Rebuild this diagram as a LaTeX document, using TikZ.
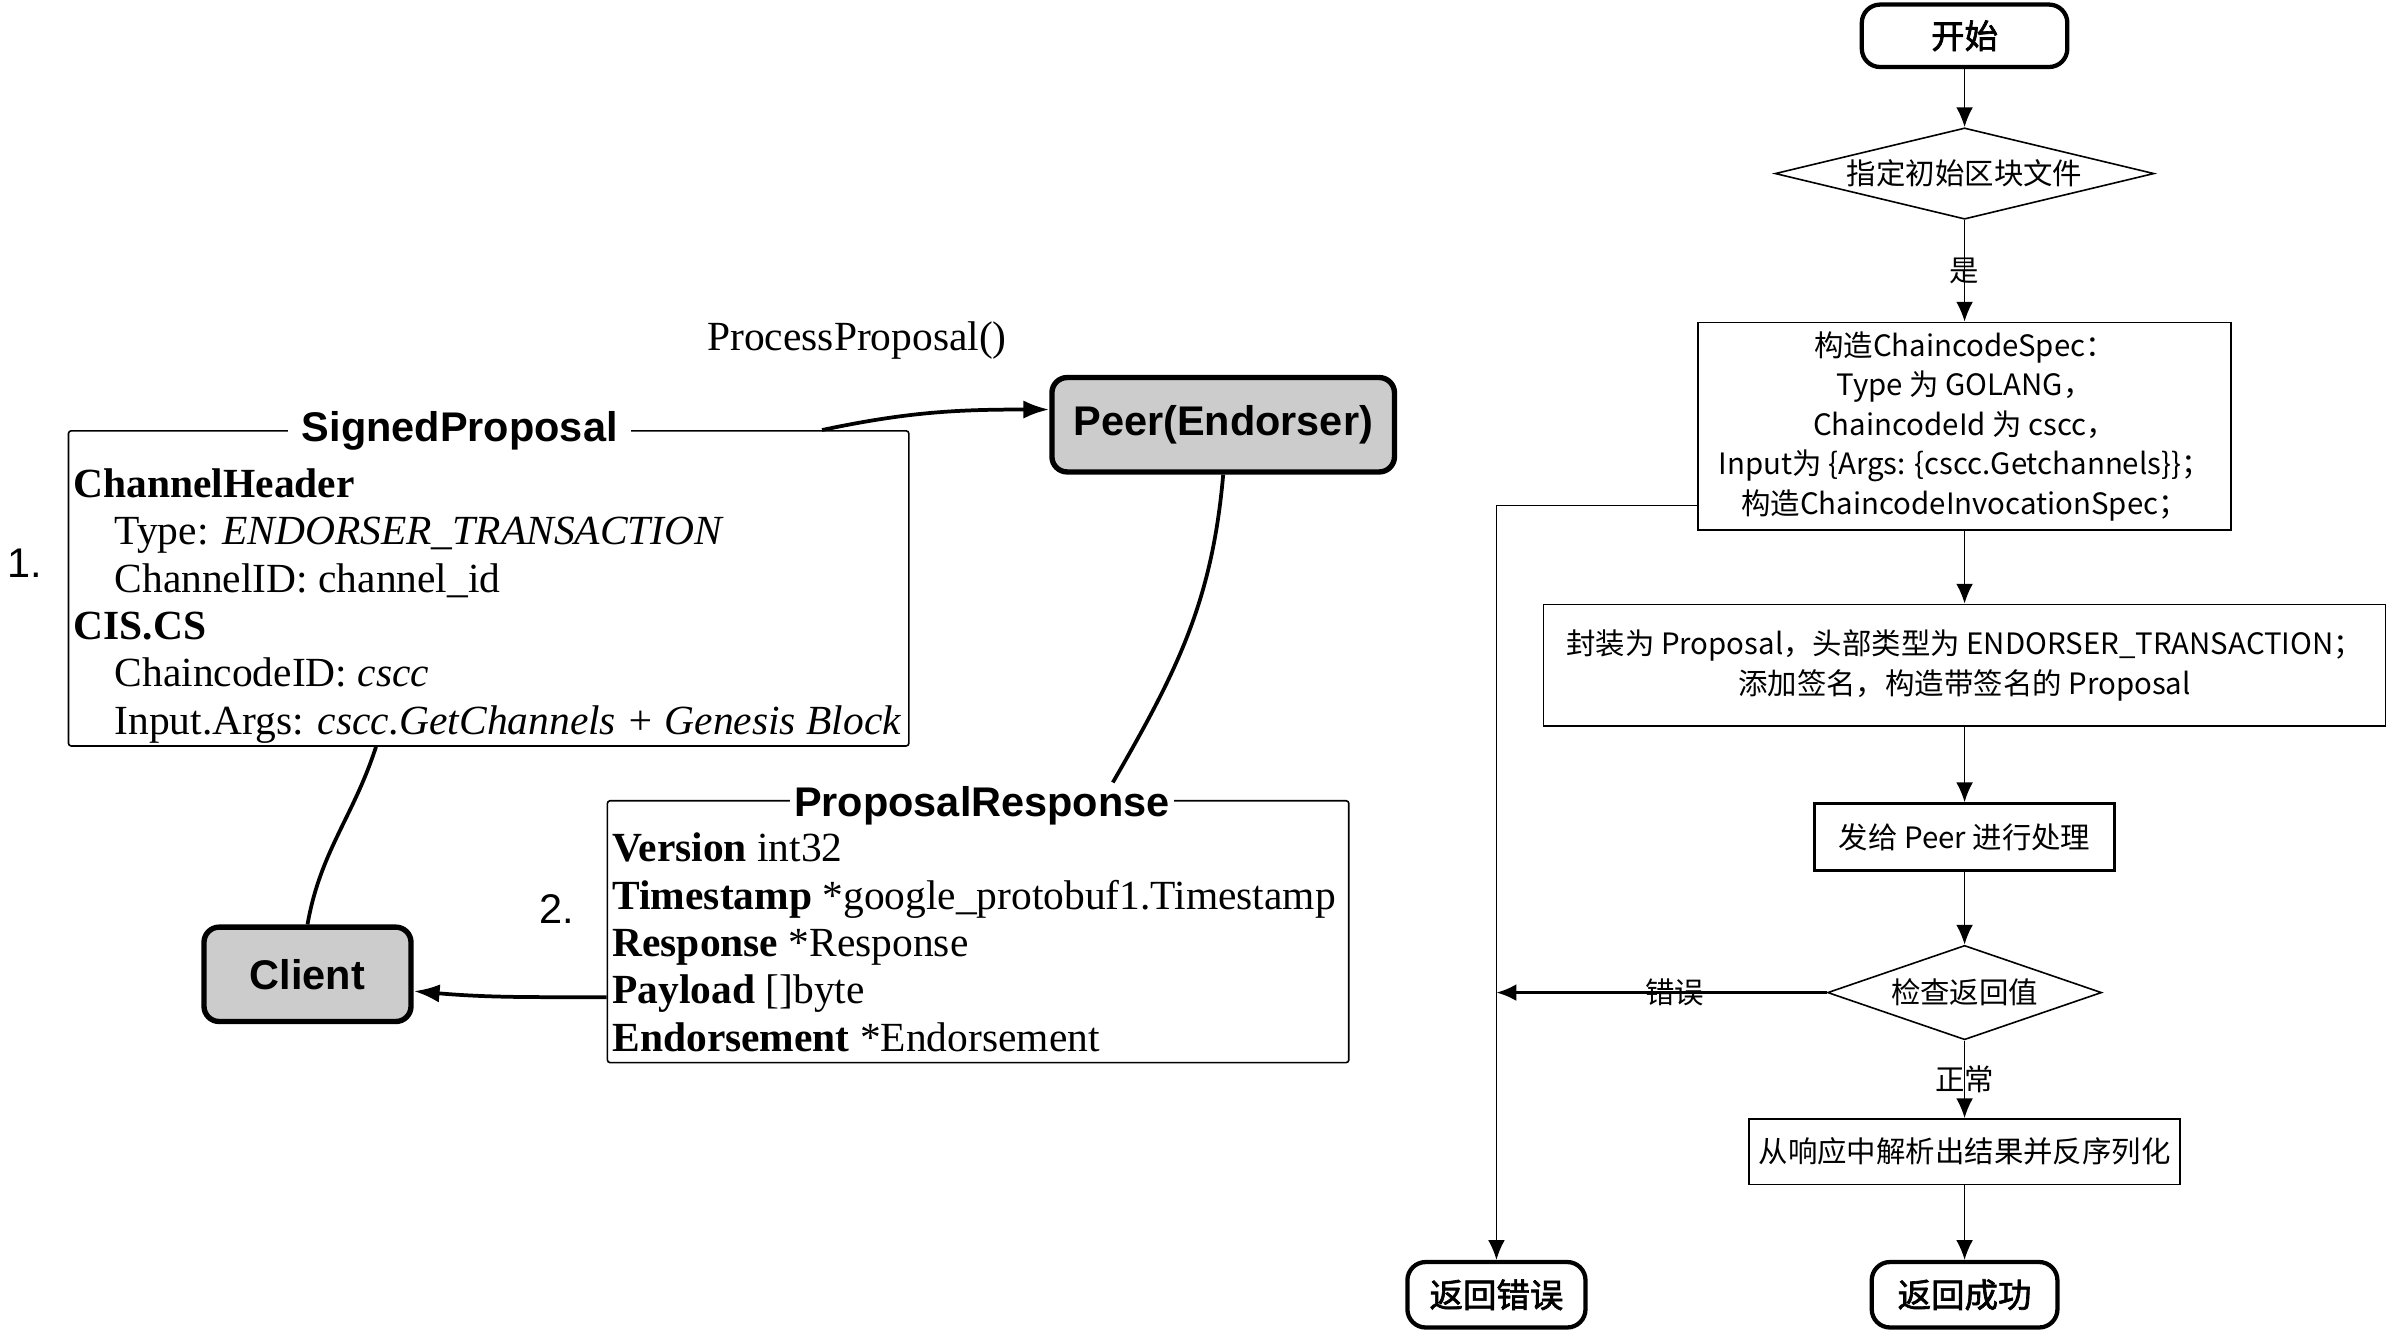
\documentclass[tikz,border=0pt]{standalone}
\usepackage{fontspec}
\setmainfont{Liberation Serif}
\setsansfont{Liberation Sans}
\newfontfamily\cjk[AutoFakeBold=2]{Noto Sans CJK SC}
\usepackage{tikz}
\usetikzlibrary{shapes,arrows,arrows.meta}
\usetikzlibrary{positioning}
\usetikzlibrary{shapes.geometric}
\tikzstyle{actor} = [draw, rounded corners=0.2cm, fill=black!20, line width=2pt,
font=\sffamily\bfseries\fontsize{15.5}{18}\selectfont]
\tikzstyle{line} = [draw, line width=1.4pt, -{Latex[length=0.34cm,width=0.24cm]}]
\tikzstyle{flow} = [draw, line width=0.6pt, -{Latex[length=0.26cm,width=0.22cm]}]

\begin{document}
\begin{tikzpicture}[
	msgbox/.style={draw, rectangle, rounded corners=1pt, line width=0.6pt},
	msgtitle/.style={fill=white, inner xsep=0.18cm, inner ysep=0.04cm,
		font=\sffamily\bfseries\fontsize{15.5}{18}\selectfont},
	msgtext/.style={anchor=west, align=left, inner sep=0pt,
		font=\fontsize{15.5}{17.7}\selectfont},
	stepnum/.style={font=\sffamily\fontsize{15.5}{18}\selectfont},
	terminal/.style={draw, rounded corners=0.24cm, line width=1.6pt,
		font=\cjk\bfseries\fontsize{12.5}{15}\selectfont},
	process/.style={draw, rectangle, line width=0.6pt, align=center,
		font=\cjk\fontsize{11}{14.8}\selectfont},
	decision/.style={draw, diamond, inner sep=0pt, line width=0.6pt,
		font=\cjk\fontsize{11}{14}\selectfont},
	flowlabel/.style={font=\cjk\fontsize{11}{13}\selectfont, inner sep=1pt}]
	\useasboundingbox (0,0) rectangle (31.36,-17.48);
	% Peer and client
	\node [actor, minimum width=4.5cm, minimum height=1.24cm] at (16.07,-5.58) (peer) {Peer(Endorser)};
	\node [actor, minimum width=2.72cm, minimum height=1.24cm] at (4.04,-12.8) (client) {Client};
	\node at (11.26,-4.48) (callLabel) {\fontsize{15.5}{18}\selectfont ProcessProposal()};
	% SignedProposal
	\node [msgbox, minimum width=11.04cm, minimum height=4.14cm] at (6.42,-7.73) (sp) {};
	\node [msgtitle] at (6.04,-5.66) (spTitle) {SignedProposal};
	\node [msgtext] at (0.96,-7.96) (spFields) {\textbf{ChannelHeader}\\
		\hspace*{0.54cm}Type: \textit{ENDORSER\_TRANSACTION}\\
		\hspace*{0.54cm}ChannelID: channel\_id\\
		\textbf{CIS.CS}\\
		\hspace*{0.54cm}ChaincodeID: \textit{cscc}\\
		\hspace*{0.54cm}Input.Args: \textit{cscc.GetChannels + Genesis Block}};
	\node [stepnum] at (0.32,-7.4) (stepOne) {1.};
	% ProposalResponse
	\node [msgbox, minimum width=9.74cm, minimum height=3.44cm] at (12.85,-12.24) (pr) {};
	\node [msgtitle, inner xsep=0.05cm] at (12.9,-10.58) (prTitle) {ProposalResponse};
	\node [msgtext] at (8.04,-12.38) (prFields) {\textbf{Version} int32\\
		\textbf{Timestamp} *google\_protobuf1.Timestamp\\
		\textbf{Response} *Response\\
		\textbf{Payload} []byte\\
		\textbf{Endorsement} *Endorsement};
	\node [stepnum] at (7.32,-11.94) (stepTwo) {2.};
	%% Flows
	\path [line] ([xshift=4.38cm]sp.north) to [out=12, in=180] (peer.175);
	\path [draw, line width=1.4pt] (peer.south) to [out=-95, in=60] ([xshift=1.72cm]prTitle.north);
	\path [draw, line width=1.4pt] ([xshift=-1.48cm]sp.south) to [out=-108, in=80] (client.north);
	\path [line] ([yshift=-0.86cm]pr.west) to [out=180, in=-5] (client.-9);
	% Flow chart
	\node [terminal, minimum width=2.7cm, minimum height=0.82cm] at (25.81,-0.47) (start) {开始};
	\node [decision, aspect=4, minimum width=4.98cm, minimum height=1.2cm] at (25.81,-2.28) (checkFile) {指定初始区块文件};
	\node [process, minimum width=7cm, minimum height=2.64cm] at (25.81,-5.6) (buildSpec) {构造ChaincodeSpec：\\Type 为 GOLANG，\\ChaincodeId 为 cscc，\\Input为 \{Args: \{cscc.Getchannels\}\}；\\构造ChaincodeInvocationSpec；};
	\node [process, minimum width=11.06cm, minimum height=1.6cm] at (25.81,-8.74) (wrap) {封装为 Proposal，头部类型为 ENDORSER\_TRANSACTION；\\添加签名，构造带签名的 Proposal};
	\node [process, line width=1.2pt, minimum width=3.94cm, minimum height=0.88cm] at (25.81,-11.0) (send) {发给 Peer 进行处理};
	\node [decision, aspect=3, minimum width=3.6cm, minimum height=1.24cm] at (25.81,-13.04) (checkRet) {检查返回值};
	\node [process, minimum width=5.66cm, minimum height=0.86cm] at (25.81,-15.13) (parse) {从响应中解析出结果并反序列化};
	\node [terminal, minimum width=2.44cm, minimum height=0.86cm] at (25.81,-17.01) (success) {返回成功};
	\node [terminal, minimum width=2.34cm, minimum height=0.86cm] at (19.66,-17.01) (failure) {返回错误};
	\path [flow] (start) -- (checkFile);
	\path [flow] (checkFile) -- node [flowlabel] (yesLabel) {是} (buildSpec);
	\path [flow] (buildSpec) -- (wrap);
	\path [flow] (wrap) -- (send);
	\path [flow] (send) -- (checkRet);
	\path [flow] (checkRet) -- node [flowlabel] (okLabel) {正常} (parse);
	\path [flow] (parse) -- (success);
	\path [flow] ([yshift=-1.04cm]buildSpec.west) -| (failure);
	\path [flow, line width=1pt] (checkRet.west) -- node [flowlabel, pos=0.46] (errLabel) {错误} (checkRet.west -| failure.north);
\end{tikzpicture}
\end{document}
